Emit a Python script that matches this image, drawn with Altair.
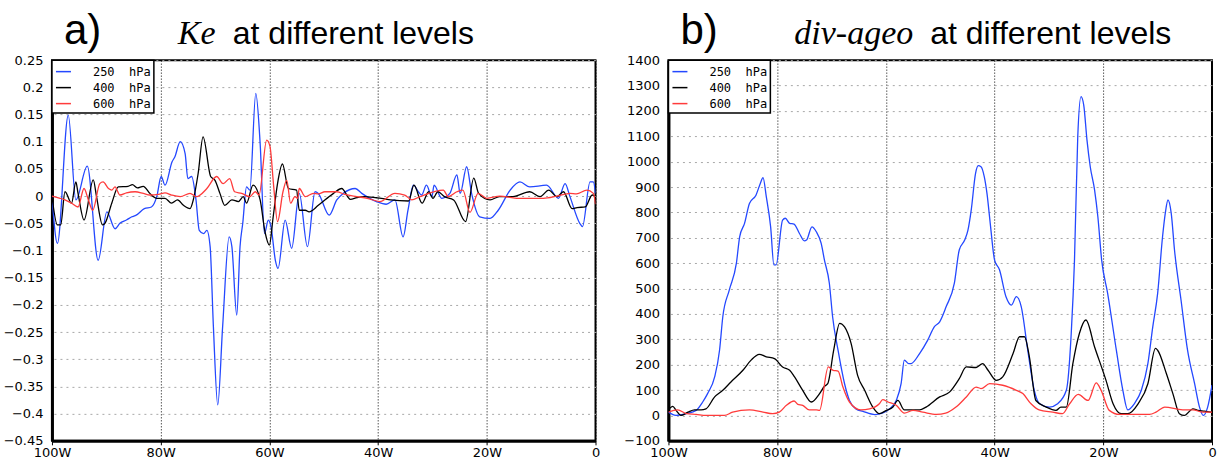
import altair as alt
import pandas as pd

LEVELS = ["250 hPa", "400 hPa", "600 hPa"]
COLORS = ["#2448ff", "#000000", "#ff3b3b"]

# ---------------- panel a) Ke (longitude in degrees West, value) ----------------
ke250_lon = [100.0, 99.0, 97.0, 95.6, 93.5, 91.5, 89.9, 88.4, 87.5, 86.3, 85.3, 84.5, 83.0, 81.7,
             80.7, 79.9, 79.2, 77.9, 77.4, 76.4, 75.5, 75.0, 74.3, 73.5, 72.9, 72.1, 71.5, 70.9,
             70.3, 69.5, 68.6, 67.4, 66.9, 66.0, 65.4, 64.9, 64.2, 63.6, 62.5, 61.7, 60.9, 60.2,
             59.7, 58.9, 58.4, 57.1, 55.9, 54.5, 53.0, 51.6, 51.0, 49.0, 47.6, 46.4, 44.2, 43.0,
             40.3, 38.5, 36.9, 35.4, 34.5, 33.5, 32.6, 32.0, 31.1, 30.1, 29.7, 28.3, 26.8, 25.5,
             24.9, 23.7, 22.8, 21.3, 19.4, 17.9, 15.7, 13.9, 12.1, 9.0, 6.8, 5.6, 4.7, 2.9, 2.4,
             1.0, 0.4, 0.0]
ke250_val = [0.0, -0.087, 0.149, -0.007, 0.055, -0.118, -0.029, -0.060, -0.050, -0.044, -0.038,
             -0.035, -0.023, -0.020, 0.0, 0.036, 0.020, 0.063, 0.072, 0.100, 0.078, 0.032, 0.036,
             -0.007, -0.063, -0.069, -0.063, -0.093, -0.240, -0.384, -0.240, -0.075, -0.093,
             -0.219, -0.093, -0.050, 0.017, 0.011, 0.189, 0.097, -0.069, -0.044, -0.056, -0.118,
             -0.133, -0.044, -0.096, 0.005, -0.093, 0.008, 0.005, -0.035, -0.007, 0.005, 0.014,
             0.005, -0.010, -0.015, -0.007, -0.075, -0.026, 0.020, 0.008, 0.002, 0.020, -0.001,
             0.020, -0.004, 0.005, 0.039, 0.005, 0.054, 0.005, -0.038, -0.041, -0.026, 0.011,
             0.026, 0.017, 0.020, -0.004, 0.023, -0.001, -0.050, -0.056, 0.026, 0.026, 0.005]

ke400_lon = [100.0, 99.0, 98.4, 97.6, 96.4, 95.6, 95.2, 94.1, 92.4, 91.8, 90.7, 90.25, 89.0, 87.8,
             86.0, 85.2, 84.3, 83.2, 82.0, 80.7, 79.2, 78.0, 76.9, 75.8, 74.6, 74.0, 73.1, 72.2,
             70.8, 70.0, 69.1, 68.2, 66.9, 65.7, 64.8, 64.2, 63.0, 61.7, 60.8, 60.0, 59.3, 58.5,
             57.6, 56.5, 55.0, 54.5, 53.4, 52.7, 51.0, 48.2, 46.7, 45.1, 43.9, 42.6, 40.3, 39.4,
             37.7, 34.4, 33.4, 31.9, 30.7, 29.9, 29.0, 27.8, 26.1, 23.9, 22.4, 21.5, 19.4, 17.7,
             15.2, 12.1, 10.2, 8.6, 7.1, 5.9, 4.3, 3.4, 1.9, 0.6, 0.0]
ke400_val = [0.0, -0.053, -0.053, 0.008, -0.013, 0.026, 0.005, -0.044, 0.030, -0.001, -0.053,
             -0.050, -0.013, 0.017, 0.018, 0.021, 0.015, 0.018, 0.005, -0.004, -0.004, -0.013,
             -0.007, -0.017, -0.023, -0.007, 0.042, 0.109, 0.036, 0.029, 0.005, -0.017, -0.007,
             -0.010, -0.001, -0.013, 0.020, -0.007, -0.066, -0.090, -0.038, 0.023, 0.059, 0.014,
             0.011, -0.026, -0.026, -0.029, -0.017, 0.005, 0.014, -0.006, -0.003, -0.001, -0.003,
             -0.004, -0.007, -0.009, 0.020, -0.013, 0.008, -0.004, 0.008, -0.001, -0.007, -0.047,
             0.033, 0.005, -0.007, -0.001, -0.001, 0.008, -0.001, 0.011, -0.001, 0.008, -0.023,
             -0.021, -0.020, 0.002, -0.001]

ke600_lon = [100.0, 98.5, 97.6, 96.4, 95.2, 94.1, 93.3, 92.5, 91.2, 90.6, 89.6, 89.0, 88.4, 87.5,
             86.3, 84.7, 83.2, 82.0, 80.4, 79.2, 78.0, 76.4, 74.6, 73.4, 71.5, 69.7, 68.5, 67.3,
             66.4, 65.1, 63.6, 62.6, 61.9, 60.5, 59.9, 59.2, 58.5, 57.5, 56.8, 56.1, 55.3, 54.8,
             54.5, 53.4, 51.9, 51.0, 49.8, 47.6, 46.1, 43.9, 42.0, 39.7, 36.9, 35.1, 33.8, 32.3,
             28.0, 27.1, 25.5, 24.4, 23.1, 21.6, 20.0, 17.6, 14.5, 9.6, 7.1, 4.7, 3.5, 1.6, 0.4,
             0.0]
ke600_val = [0.0, -0.004, -0.007, -0.013, -0.020, 0.014, -0.007, -0.026, 0.023, 0.026, 0.014,
             0.011, 0.017, 0.002, 0.006, 0.008, 0.005, 0.002, 0.003, 0.006, 0.002, -0.001, 0.005,
             -0.001, 0.014, 0.036, 0.023, 0.032, 0.008, 0.005, -0.001, 0.008, 0.002, 0.103, 0.092,
             0.017, -0.047, 0.008, 0.029, -0.013, -0.001, -0.004, 0.014, -0.001, 0.005, 0.004,
             0.008, 0.008, 0.003, -0.001, -0.004, -0.010, 0.005, 0.002, -0.007, -0.001, 0.011,
             -0.001, 0.008, 0.011, -0.030, 0.005, -0.004, 0.000, -0.004, -0.004, 0.000, 0.005,
             0.004, 0.011, 0.005, -0.015]

# ---------------- panel b) div-ageo ----------------
dv250_lon = [100.0, 99.5, 98.6, 96.7, 94.9, 93.7, 92.8, 91.5, 90.6, 90.0, 88.8, 87.5, 86.9, 86.0,
             85.1, 83.9, 83.1, 82.6, 82.0, 81.2, 80.6, 80.2, 79.0, 78.5, 77.7, 76.9, 75.9, 75.0,
             74.6, 73.6, 72.8, 71.9, 71.3, 70.4, 69.8, 68.8, 67.6, 66.7, 65.5, 64.2, 62.0, 59.3,
             58.1, 57.2, 56.6, 55.8, 55.4, 53.8, 52.3, 51.1, 50.1, 48.9, 47.4, 46.5, 45.5, 44.9,
             44.3, 43.5, 43.0, 42.5, 41.9, 41.4, 40.8, 40.0, 39.1, 37.9, 36.9, 36.0, 35.1, 33.9,
             32.7, 31.7, 29.9, 28.4, 26.8, 25.9, 25.3, 24.7, 24.1, 23.6, 23.0, 22.4, 21.6, 21.0,
             20.3, 19.2, 17.6, 16.4, 15.5, 14.3, 13.0, 11.8, 10.9, 10.0, 9.1, 8.6, 8.1, 7.5, 6.9,
             5.7, 4.5, 3.2, 2.3, 1.6, 0.8, 0.0]
dv250_val = [13, 7, 0, 7, 20, 53, 86, 152, 257, 389, 495, 600, 704, 757, 835, 868, 914, 937, 862,
             743, 593, 593, 770, 777, 757, 754, 717, 688, 691, 743, 724, 678, 612, 521, 389, 257,
             125, 59, 26, 16, 3, 26, 59, 125, 218, 204, 204, 244, 297, 349, 369, 429, 521, 652,
             691, 730, 809, 954, 984, 980, 941, 875, 757, 612, 574, 468, 435, 468, 429, 257, 99,
             46, 33, 46, 99, 323, 612, 1098, 1256, 1223, 1085, 980, 888, 783, 612, 481, 257, 99,
             22, 46, 99, 204, 349, 481, 704, 796, 849, 796, 652, 455, 257, 125, 33, 0, 33, 120]

dv400_lon = [100.0, 99.2, 98.6, 97.7, 96.4, 95.2, 94.0, 93.1, 91.5, 90.0, 88.5, 86.3, 84.8, 83.3,
             82.0, 80.5, 79.0, 77.7, 76.8, 75.3, 73.7, 72.2, 71.3, 70.7, 69.6, 68.5, 67.6, 66.4,
             65.2, 63.9, 62.4, 61.2, 59.9, 58.7, 57.8, 56.6, 53.8, 52.6, 50.1, 48.3, 46.5, 45.2,
             43.4, 42.2, 41.2, 39.7, 38.5, 36.6, 35.4, 34.5, 33.6, 32.4, 30.5, 28.7, 27.8, 26.8,
             25.6, 24.4, 23.2, 21.6, 19.5, 18.2, 16.7, 15.5, 13.6, 11.8, 10.4, 10.0, 8.4, 7.2,
             6.0, 5.1, 3.5, 2.6, 1.4, 0.2]
dv400_val = [22, 36, 20, 0, 13, 22, 22, 26, 73, 99, 132, 178, 218, 241, 231, 224, 191, 178, 152,
             99, 53, 86, 115, 125, 257, 363, 349, 284, 158, 99, 33, 7, 20, 33, 59, 22, 22, 33, 73,
             92, 145, 191, 189, 204, 178, 138, 152, 244, 310, 310, 231, 59, 33, 20, 33, 33, 204,
             323, 376, 270, 138, 46, 7, 7, 46, 125, 264, 257, 165, 86, 7, 0, 26, 20, 17, 13]

dv600_lon = [100.0, 98.3, 96.7, 94.9, 93.1, 89.7, 88.2, 85.1, 82.6, 80.8, 79.6, 78.3, 76.9, 76.2,
             75.3, 74.1, 72.8, 72.2, 70.6, 69.7, 68.8, 67.9, 66.7, 64.6, 63.0, 61.2, 60.6, 59.6,
             58.1, 56.6, 55.0, 53.2, 50.7, 49.0, 47.1, 45.2, 43.4, 42.5, 40.9, 38.5, 36.0, 34.8,
             33.3, 31.8, 29.3, 27.5, 26.2, 24.6, 22.8, 21.3, 20.4, 18.9, 17.0, 11.5, 10.3, 8.7,
             5.4, 3.5, 1.7, 0.0]
dv600_val = [13, 22, 7, 4, 0, 0, 13, 22, 13, 7, 13, 40, 57, 44, 40, 22, 22, 20, 191, 178, 175,
             112, 53, 22, 26, 46, 62, 53, 40, 9, 20, 13, 4, 9, 33, 73, 112, 106, 125, 119, 99, 86,
             46, 22, 13, 7, 46, 83, 59, 128, 99, 20, 4, 4, 13, 33, 22, 22, 13, 13]

KE_TICKS = [-0.45, -0.4, -0.35, -0.3, -0.25, -0.2, -0.15, -0.1, -0.05, 0, 0.05, 0.1, 0.15, 0.2, 0.25]
DV_TICKS = [-100, 0, 100, 200, 300, 400, 500, 600, 700, 800, 900, 1000, 1100, 1200, 1300, 1400]
X_TICKS = [100, 80, 60, 40, 20, 0]


def frame(lons, vals):
    out = []
    for lev, lo, va in zip(LEVELS, lons, vals):
        out.append(pd.DataFrame({"lon": lo, "value": va, "level": lev}))
    return pd.concat(out, ignore_index=True)


ke_df = frame([ke250_lon, ke400_lon, ke600_lon], [ke250_val, ke400_val, ke600_val])
dv_df = frame([dv250_lon, dv400_lon, dv600_lon], [dv250_val, dv400_val, dv600_val])

NB = "\u00a0"
SANS = "Liberation Sans"


def label(txt, x, y, size, font=SANS, style="normal"):
    return alt.Chart(pd.DataFrame({"t": [txt]})).mark_text(
        align="left", baseline="alphabetic", font=font, fontSize=size,
        fontStyle=style, color="black"
    ).encode(text="t:N", x=alt.value(x), y=alt.value(y))


def panel(df, ydom, yticks, yfmt, tag, italic, rest, x_it, x_rest):
    lines = alt.Chart(df).mark_line(strokeWidth=1.3, interpolate="monotone", clip=True).encode(
        x=alt.X("lon:Q",
                scale=alt.Scale(domain=[0, 100], reverse=True, nice=False, zero=False),
                axis=alt.Axis(values=X_TICKS, title=None,
                              labelExpr="datum.value == 0 ? '0' : datum.value + 'W'",
                              labelFlush=False,
                              grid=True, gridColor="black", gridDash=[1, 2], gridWidth=1,
                              ticks=True, tickSize=4, tickColor="black",
                              labelPadding=2, domainWidth=3)),
        y=alt.Y("value:Q",
                scale=alt.Scale(domain=ydom, nice=False, zero=False),
                axis=alt.Axis(values=yticks, format=yfmt, title=None,
                              grid=True, gridColor="#a8a8a8", gridDash=[2, 4], gridWidth=1,
                              ticks=False, labelPadding=9, domainWidth=3)),
        color=alt.Color("level:N",
                        scale=alt.Scale(domain=LEVELS, range=COLORS),
                        legend=alt.Legend(
                            title=None, orient="top-left", offset=0, padding=3,
                            strokeColor="black", fillColor="white",
                            symbolType="stroke", symbolSize=225, symbolStrokeWidth=1.5,
                            labelFont="DejaVu Sans Mono", labelFontSize=12, labelOffset=21,
                            rowPadding=1, labelColor="black",
                            labelExpr="replace(datum.label, ' ', '" + NB + NB + "') + '" + NB + "'")),
    )
    return alt.layer(
        lines,
        label(tag, 12, -16, 42),
        label(italic, x_it, -16, 34, font="Liberation Serif", style="italic"),
        label(rest, x_rest, -16, 32),
    ).properties(width=544, height=381)


left = panel(ke_df, [-0.45, 0.25], KE_TICKS, "~f", "a)", "Ke", "at different levels", 126, 181)
right = panel(dv_df, [-100, 1400], DV_TICKS, "d", "b)", "div-ageo", "at different levels", 126, 262)

chart = alt.hconcat(left, right, spacing=21).resolve_scale(
    color="independent", x="independent", y="independent"
).resolve_legend(color="independent").properties(
    padding={"left": 2, "top": 9, "right": 2, "bottom": 2}
).configure_view(
    stroke="black", strokeWidth=2
).configure_axis(
    labelFont="DejaVu Sans", labelFontSize=13, labelColor="black", domainColor="black"
).configure_legend(
    strokeWidth=1.5
)

chart.save("out.html", embed_options={"renderer": "svg", "actions": False})
